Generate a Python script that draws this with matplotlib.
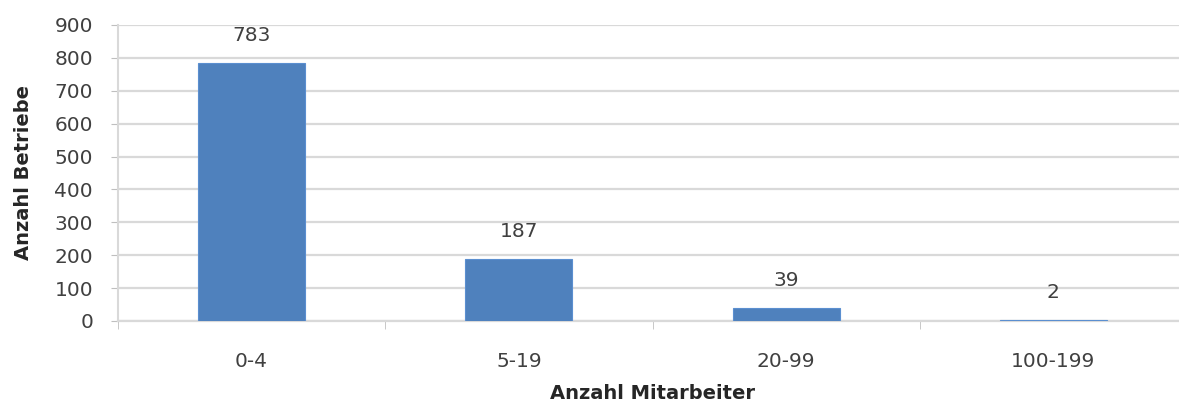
import matplotlib
matplotlib.use("Agg")
import matplotlib.pyplot as plt
import numpy as np

# Betriebe nach Anzahl Mitarbeiter
categories = ["0-4", "5-19", "20-99", "100-199"]
counts = [783, 187, 39, 2]
yticks = [0, 100, 200, 300, 400, 500, 600, 700, 800, 900]

plt.rcParams['font.family'] = ['DejaVu Sans']

fig = plt.figure(figsize=(11.79, 4.05), dpi=100)
W, H = 1179, 405
ax = fig.add_axes([118 / W, 1 - 321 / H, (1187 - 118) / W, (321 - 25) / H])

x = np.arange(len(categories))
ax.bar(x, counts, width=0.4, color="#4F81BD", edgecolor="#5B8FD0", linewidth=0.8, zorder=3)

for xi, v in zip(x, counts):
    ax.annotate(str(v), (xi, v), xytext=(0, 13), textcoords="offset points",
                ha="center", va="bottom", fontsize=14.5, color="#404040")

ax.set_xlim(-0.5, len(categories) - 0.5)
ax.set_ylim(0, 900)
ax.set_yticks(yticks)
ax.set_yticklabels([str(t) for t in yticks], fontsize=14.5, color="#404040")
ax.grid(axis="y", color="#D9D9D9", linewidth=1.6, zorder=0)

ax.set_xticks(x)
ax.set_xticklabels(categories, fontsize=14.5, color="#404040")
ax.tick_params(axis="x", length=0, pad=22)
ax.set_xticks(np.arange(len(categories) + 1) - 0.5, minor=True)
ax.tick_params(axis="x", which="minor", length=6, color="#BFBFBF")
ax.tick_params(axis="y", length=5, color="#BFBFBF", pad=13)

for s in ["top", "right"]:
    ax.spines[s].set_visible(False)
ax.spines["left"].set_color("#D9D9D9")
ax.spines["left"].set_linewidth(1.5)
ax.spines["bottom"].set_color("#D9D9D9")
ax.spines["bottom"].set_linewidth(1.6)

ax.set_ylabel("Anzahl Betriebe", fontsize=14, fontweight="bold", color="#262626")
ax.yaxis.set_label_coords((33 - 118) / (1187 - 118), 0.5)
ax.set_xlabel("Anzahl Mitarbeiter", fontsize=14, fontweight="bold", color="#262626")
ax.xaxis.set_label_coords((652 - 118) / (1187 - 118), -(384 - 321) / (321 - 25))

fig.savefig("out.png", dpi=100)
